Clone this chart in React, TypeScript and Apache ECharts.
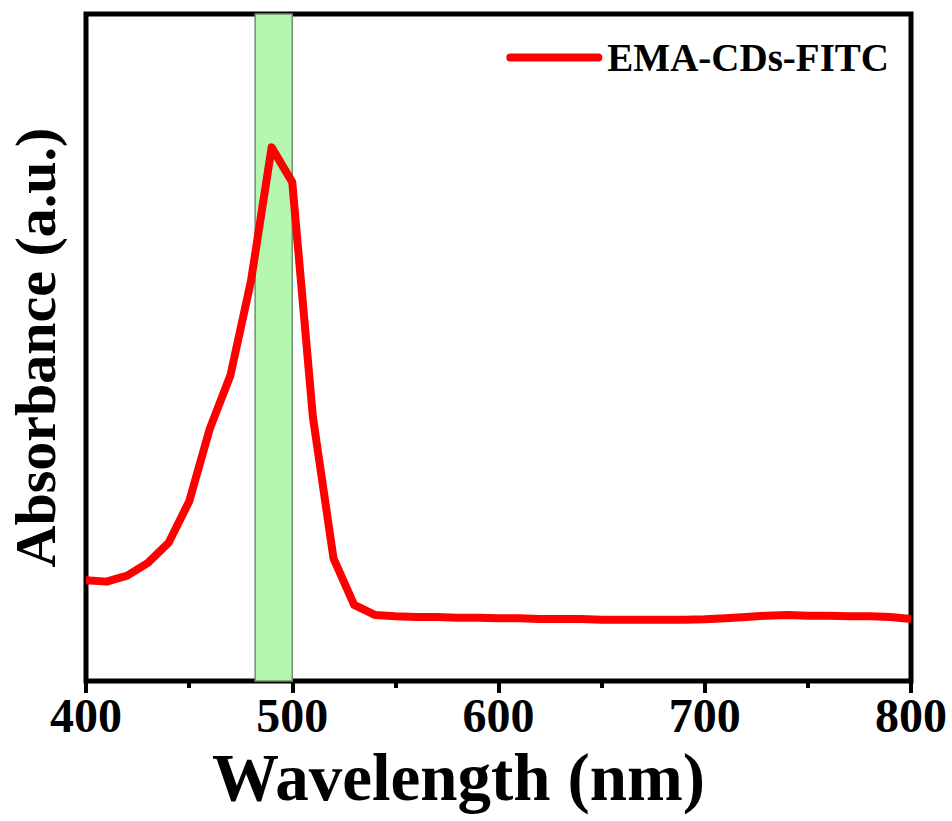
import React, { useEffect, useRef } from "react";
import * as echarts from "echarts";

const wavelengths = [
  400, 410, 420, 430, 440, 450, 460, 470, 480, 490, 500, 510, 520, 530, 540, 550, 560, 570, 580, 590,
  600, 610, 620, 630, 640, 650, 660, 670, 680, 690, 700, 710, 720, 730, 740, 750, 760, 770, 780, 790, 800,
];
const absorbance = [
  0.151, 0.149, 0.158, 0.177, 0.207, 0.269, 0.378, 0.458, 0.6, 0.8, 0.748, 0.396, 0.184, 0.114, 0.099,
  0.097, 0.096, 0.096, 0.095, 0.095, 0.094, 0.094, 0.093, 0.093, 0.093, 0.092, 0.092, 0.092, 0.092,
  0.092, 0.0925, 0.094, 0.096, 0.098, 0.099, 0.098, 0.098, 0.097, 0.097, 0.096, 0.093,
];
const seriesName = "EMA-CDs-FITC";
const highlightBand = [482, 500];
const xTickLabels = [400, 500, 600, 700, 800];

const FONT = "'Liberation Serif', 'Times New Roman', serif";

export default function App() {
  const ref = useRef<HTMLDivElement>(null);
  useEffect(() => {
    if (!ref.current) return;
    const chart = echarts.init(ref.current, undefined, { renderer: "svg" });
    const data = wavelengths.map((w, i) => [w, absorbance[i]]);
    chart.setOption({
      animation: false,
      backgroundColor: "#ffffff",
      grid: {
        left: 86,
        right: 41,
        top: 14,
        bottom: 140,
        containLabel: false,
        outerBoundsMode: "none",
        show: true,
        borderColor: "#000",
        borderWidth: 5,
        backgroundColor: "transparent",
      },
      legend: {
        show: true,
        right: 58,
        top: 33,
        icon: "path://M4,0 L92,0 A4,4 0 0 1 92,8 L4,8 A4,4 0 0 1 4,0 Z",
        itemWidth: 96,
        itemHeight: 8,
        textStyle: {
          fontFamily: FONT,
          fontWeight: "bold",
          fontSize: 39,
          color: "#000",
        },
        data: [{ name: seriesName, itemStyle: { color: "#ff0000" } }],
      },
      xAxis: {
        type: "value",
        min: xTickLabels[0],
        max: xTickLabels[xTickLabels.length - 1],
        interval: 100,
        name: "Wavelength (nm)",
        nameLocation: "middle",
        nameGap: 60,
        nameTextStyle: {
          fontFamily: FONT,
          fontWeight: "bold",
          fontSize: 67,
          color: "#000",
          padding: [0, 80, 0, 0],
        },
        axisLine: { show: false },
        axisTick: { show: true, inside: false, length: 12, lineStyle: { color: "#000", width: 4 } },
        minorTick: { show: true, splitNumber: 2, length: 7, lineStyle: { color: "#000", width: 4 } },
        splitLine: { show: false },
        minorSplitLine: { show: false },
        axisLabel: {
          margin: 10,
          fontFamily: FONT,
          fontWeight: "bold",
          fontSize: 48,
          color: "#000",
        },
      },
      yAxis: {
        type: "value",
        min: 0,
        max: 1,
        name: "Absorbance (a.u.)",
        nameLocation: "middle",
        nameRotate: 90,
        nameGap: 22,
        nameTextStyle: {
          fontFamily: FONT,
          fontWeight: "bold",
          fontSize: 58,
          color: "#000",
        },
        axisLine: { show: false },
        axisTick: { show: false },
        axisLabel: { show: false },
        splitLine: { show: false },
      },
      series: [
        {
          name: seriesName,
          type: "line",
          data,
          symbol: "none",
          lineStyle: { color: "#ff0000", width: 8, join: "round" },
          itemStyle: { color: "#ff0000" },
          markArea: {
            silent: true,
            itemStyle: {
              color: "#b3f7b0",
              borderColor: "#6f8f6f",
              borderWidth: 1.5,
            },
            data: [[{ xAxis: highlightBand[0] }, { xAxis: highlightBand[1] }]],
          },
        },
      ],
    });
    return () => chart.dispose();
  }, []);
  return (
    <div
      ref={ref}
      style={{ position: "fixed", left: 0, top: 0, width: 952, height: 821, background: "#fff" }}
    />
  );
}
